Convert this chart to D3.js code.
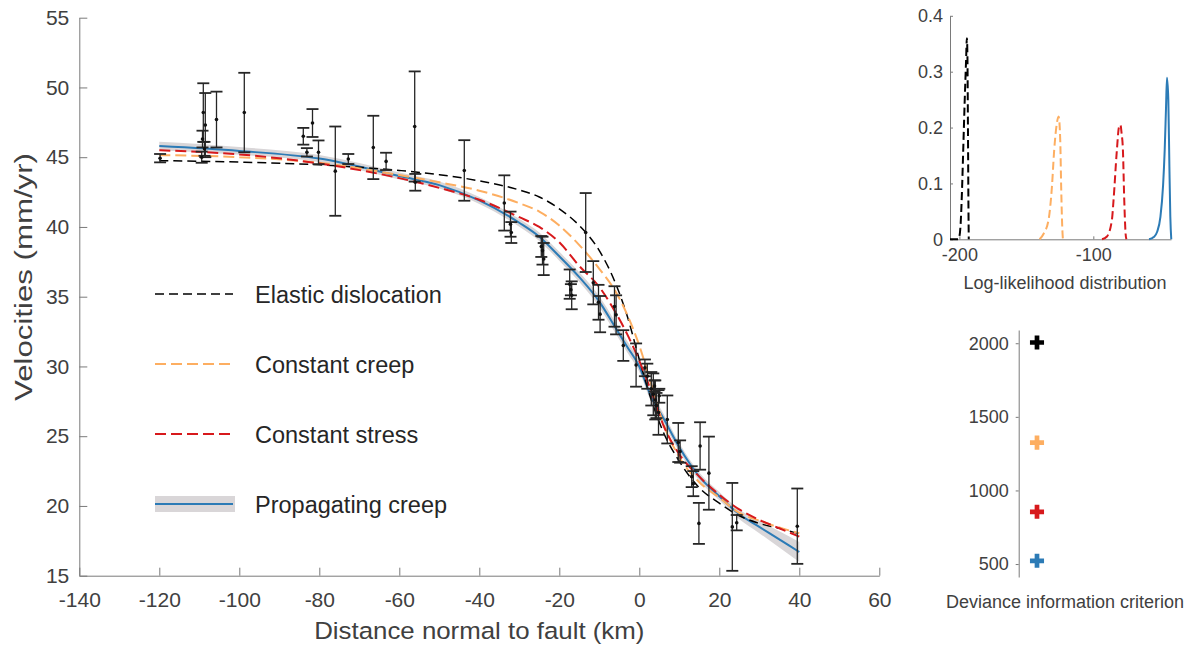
<!DOCTYPE html>
<html>
<head>
<meta charset="utf-8">
<script src="https://cdn.jsdelivr.net/npm/d3@7"></script>
<style>
  body { margin: 0; background: #fff; }
  svg text { font-family: "Liberation Sans", Arial, Helvetica, sans-serif; }
</style>
</head>
<body>
<svg id="fig" width="1195" height="646"></svg>
<script>
// ---------- data ----------
// GPS velocity observations across the fault
const distanceKm = [-119.8, -109.0, -108.5, -109.2, -108.7, -109.4, -105.7, -98.75, -84.0, -83.1, -81.7, -80.2,
  -76.0, -72.75, -66.5, -63.3, -56.15, -56.0, -43.75, -33.75, -32.2, -32.0, -24.5, -24.2, -23.9,
  -17.4, -17.1, -16.9, -13.4, -11.5, -10.2, -9.8, -6.2, -5.8, -4.0, -0.8, 1.4, 2.0, 3.0, 3.5, 3.8,
  4.0, 4.3, 4.8, 5.0, 7.0, 9.75, 10.2, 13.1, 13.5, 15.2, 14.9, 17.4, 23.25, 24.35, 39.5];
const velocityMm = [44.93, 48.2, 47.3, 46.3, 45.6, 45.0, 47.7, 48.2, 46.5, 45.35, 47.45, 45.35,
  44.0, 44.87, 45.7, 44.7, 47.2, 43.2, 44.05, 41.72, 40.2, 39.6, 38.6, 38.3, 37.7,
  35.9, 35.5, 35.1, 39.6, 36.0, 34.6, 33.75, 34.3, 33.7, 31.5, 30.1, 29.9, 29.3, 28.4, 28.0, 28.6,
  27.6, 27.2, 26.7, 27.9, 26.2, 24.55, 23.9, 22.1, 21.6, 24.3, 18.75, 22.35, 18.5, 18.8, 18.55];
const sigmaMm = [0.30, 2.1, 2.3, 0.6, 0.5, 0.4, 2.0, 2.85, 0.6, 0.3, 1.0, 0.85,
  3.2, 0.36, 2.27, 0.62, 3.95, 0.6, 2.17, 1.98, 0.9, 0.75, 0.75, 1.0, 1.15,
  1.05, 0.4, 1.0, 2.83, 1.55, 1.25, 1.3, 1.45, 1.4, 1.1, 1.55, 0.6, 0.9, 1.2, 1.5, 0.4,
  1.4, 0.9, 1.6, 0.5, 1.72, 1.4, 0.8, 0.75, 0.9, 1.7, 1.47, 2.62, 3.15, 0.55, 2.7];

// Model predictions, sampled along the profile
const profileKm      = [-120, -100, -80, -60, -50, -40, -30, -25, -20, -15, -10, -6, -3, 0, 3, 6, 10, 15, 20, 25, 30, 35, 40];
const elasticDisloc  = [44.75, 44.65, 44.45, 44.05, 43.75, 43.3, 42.65, 42.15, 41.3, 40.1, 38.3, 36.0, 33.6, 30.5, 27.6, 25.3, 23.2, 21.3, 20.2, 19.3, 18.75, 18.4, 18.0];
const constantCreep  = [45.15, 45.0, 44.6, 43.72, 43.2, 42.6, 41.7, 41.1, 40.1, 38.7, 37.0, 35.4, 33.7, 31.5, 28.7, 25.9, 23.5, 21.7, 20.6, 19.5, 18.95, 18.45, 18.05];
const constantStress = [45.5, 45.2, 44.55, 43.5, 42.8, 41.95, 40.7, 40.0, 38.9, 37.2, 35.7, 33.9, 32.3, 30.4, 28.2, 25.8, 23.7, 22.1, 20.8, 19.75, 19.0, 18.4, 17.8];
const propagCreep    = [45.8, 45.45, 44.9, 43.65, 43.0, 41.9, 40.3, 39.3, 37.9, 36.4, 34.65, 32.8, 31.4, 30.0, 27.8, 26.3, 24.2, 22.1, 20.7, 19.4, 18.5, 17.6, 16.7];
const propagSpread   = [0.3, 0.28, 0.25, 0.25, 0.25, 0.25, 0.28, 0.3, 0.32, 0.35, 0.38, 0.4, 0.4, 0.4, 0.38, 0.35, 0.32, 0.3, 0.3, 0.35, 0.45, 0.58, 0.72];

const modelNames = ["Elastic dislocation", "Constant creep", "Constant stress", "Propagating creep"];

// Log-likelihood distributions
const llElasticX = [-207, -201, -200, -199, -198, -197, -196, -195, -194.4, -194, -193.6, -193.2, -193];
const llElasticP = [0, 0, 0.005, 0.03, 0.09, 0.17, 0.25, 0.32, 0.36, 0.33, 0.2, 0.05, 0];
const llCreepX   = [-140.1, -137.1, -133.4, -130.9, -129.2, -127.2, -125.9, -124.7, -124.0, -123.2, -122.7];
const llCreepP   = [0, 0.01, 0.035, 0.094, 0.16, 0.208, 0.22, 0.178, 0.094, 0.022, 0];
const llStressX  = [-93.5, -89.8, -86.1, -84.9, -82.4, -80.9, -79.8, -78.9, -77.9, -76.9, -75.9, -75.3];
const llStressP  = [0, 0.005, 0.035, 0.07, 0.16, 0.2, 0.205, 0.19, 0.16, 0.07, 0.01, 0];
const llPropX    = [-58.4, -54.9, -52.4, -49.9, -47.9, -46.7, -45.7, -45.0, -44.0, -43.2, -42.5, -41.8];
const llPropP    = [0, 0.004, 0.013, 0.04, 0.097, 0.16, 0.237, 0.289, 0.25, 0.13, 0.04, 0];

// Deviance information criterion per model
const dicValues = [2005, 1325, 855, 522];

// Tick values
const xTicksMain = [-140, -120, -100, -80, -60, -40, -20, 0, 20, 40, 60];
const yTicksMain = [15, 20, 25, 30, 35, 40, 45, 50, 55];
const xTicksLL = [-200, -100];
const yTicksLL = [0, 0.1, 0.2, 0.3, 0.4];
const yTicksDIC = [500, 1000, 1500, 2000];

// ---------- styles ----------
const colors = ["#000000", "#fdae61", "#d7191c", "#2c7bb6"];
const dashes = ["9,5", "11,5", "11,5", null];
const widths = [1.5, 2, 2, 2];
const axisColor = "#7a7a7a";
const textColor = "#404040";
const plain = d => String(d);   // hyphen-minus, no grouping

const svg = d3.select("#fig");

// ---------- main panel ----------
const x = d3.scaleLinear().domain([-140, 60]).range([79.3, 879.3]);
const y = d3.scaleLinear().domain([15, 55]).range([575.7, 17.7]);

const main = svg.append("g");

function styleAxis(g, size) {
  g.select(".domain").attr("stroke", axisColor).attr("stroke-width", 1);
  g.selectAll(".tick line").attr("stroke", axisColor);
  g.selectAll(".tick text").attr("fill", textColor).attr("font-size", size);
}

main.append("g")
  .attr("transform", `translate(0,${y(15)})`)
  .call(d3.axisBottom(x).tickValues(xTicksMain).tickFormat(plain).tickSizeInner(-8).tickSizeOuter(0).tickPadding(16))
  .call(g => styleAxis(g, 21));

main.append("g")
  .attr("transform", `translate(${x(-140)},0)`)
  .call(d3.axisLeft(y).tickValues(yTicksMain).tickFormat(plain).tickSizeInner(-8).tickSizeOuter(0).tickPadding(10))
  .call(g => styleAxis(g, 21));

// axis titles are set slightly wide along their reading direction
main.append("text")
  .attr("transform", `translate(${(x(-140) + x(60)) / 2},639) scale(1.1,1)`)
  .attr("text-anchor", "middle").attr("font-size", 23.5)
  .attr("fill", textColor).text("Distance normal to fault (km)");

main.append("text")
  .attr("transform", `translate(32,277) rotate(-90) scale(1.3,1)`)
  .attr("text-anchor", "middle").attr("font-size", 24)
  .attr("fill", textColor).text("Velocities (mm/yr)");

// uncertainty band of the propagating-creep model
const band = d3.area()
  .x((d, i) => x(profileKm[i]))
  .y0((d, i) => y(propagCreep[i] - propagSpread[i]))
  .y1((d, i) => y(propagCreep[i] + propagSpread[i]))
  .curve(d3.curveMonotoneX);
main.append("path").datum(profileKm).attr("d", band)
  .attr("fill", "#d9d6d8").attr("stroke", "none");

const modelSeries = [elasticDisloc, constantCreep, constantStress, propagCreep];
const line = d3.line().x((d, i) => x(profileKm[i])).y(d => y(d)).curve(d3.curveMonotoneX);
[3, 0, 1, 2].forEach(k => {
  main.append("path").datum(modelSeries[k]).attr("d", line)
    .attr("fill", "none").attr("stroke", colors[k])
    .attr("stroke-width", widths[k])
    .attr("stroke-dasharray", dashes[k]);
});

// observations with error bars
const obs = distanceKm.map((d, i) => ({ d, v: velocityMm[i], s: sigmaMm[i] }));
const eb = main.append("g").attr("stroke", "#262626");
const capW = 6;
obs.forEach(o => {
  const cx = x(o.d), y0 = y(o.v - o.s), y1 = y(o.v + o.s);
  eb.append("line").attr("x1", cx).attr("x2", cx).attr("y1", y0).attr("y2", y1).attr("stroke-width", 1.3);
  eb.append("line").attr("x1", cx - capW).attr("x2", cx + capW).attr("y1", y0).attr("y2", y0).attr("stroke-width", 1.8);
  eb.append("line").attr("x1", cx - capW).attr("x2", cx + capW).attr("y1", y1).attr("y2", y1).attr("stroke-width", 1.8);
});
main.append("g").selectAll("circle").data(obs).join("circle")
  .attr("cx", o => x(o.d)).attr("cy", o => y(o.v)).attr("r", 1.8).attr("fill", "#111");

// legend
const legend = main.append("g");
const legY = [294, 364, 434, 504];
modelNames.forEach((name, k) => {
  if (k === 3) {
    legend.append("rect").attr("x", 155).attr("y", legY[k] - 8).attr("width", 80).attr("height", 16).attr("fill", "#d9d6d8");
  }
  legend.append("line").attr("x1", 155).attr("x2", 233).attr("y1", legY[k]).attr("y2", legY[k])
    .attr("stroke", colors[k]).attr("stroke-width", widths[k]).attr("stroke-dasharray", dashes[k]);
  legend.append("text").attr("x", 255).attr("y", legY[k] + 9).attr("font-size", 23.5)
    .attr("fill", "#262626").text(name);
});

// ---------- log-likelihood inset ----------
const xl = d3.scaleLinear().domain([-207, -42]).range([950, 1171]);
const yl = d3.scaleLinear().domain([0, 0.4]).range([239.3, 15.8]);
const ll = svg.append("g");
ll.append("g").attr("transform", `translate(0,${yl(0)})`)
  .call(d3.axisBottom(xl).tickValues(xTicksLL).tickFormat(plain).tickSizeInner(-3).tickSizeOuter(0).tickPadding(9))
  .call(g => styleAxis(g, 18));
ll.append("g").attr("transform", `translate(${xl(-207)},0)`)
  .call(d3.axisLeft(yl).tickValues(yTicksLL).tickFormat(d => d === 0 ? "0" : d.toFixed(1)).tickSizeInner(-3).tickSizeOuter(0).tickPadding(7))
  .call(g => styleAxis(g, 18));
ll.append("text").attr("x", 1065).attr("y", 289).attr("text-anchor", "middle")
  .attr("font-size", 18).attr("fill", textColor).text("Log-likelihood distribution");

const llSets = [[llElasticX, llElasticP], [llCreepX, llCreepP], [llStressX, llStressP], [llPropX, llPropP]];
llSets.forEach(([xs, ps], k) => {
  const ln = d3.line().x((d, i) => xl(xs[i])).y(d => yl(d)).curve(d3.curveMonotoneX);
  ll.append("path").datum(ps).attr("d", ln).attr("fill", "none")
    .attr("stroke", colors[k]).attr("stroke-width", 2)
    .attr("stroke-dasharray", k < 3 ? "8,4" : null);
});

// ---------- DIC inset ----------
const yd = d3.scaleLinear().domain([412, 2090]).range([577, 330]);
const xd = d3.scalePoint().domain(["DIC"]).range([1019, 1055]).padding(0.5);
const dic = svg.append("g");
dic.append("g").attr("transform", `translate(1018.7,0)`)
  .call(d3.axisLeft(yd).tickValues(yTicksDIC).tickFormat(plain).tickSizeInner(3).tickSizeOuter(0).tickPadding(7))
  .call(g => styleAxis(g, 18));
dic.append("text").attr("x", 1065).attr("y", 608).attr("text-anchor", "middle")
  .attr("font-size", 18).attr("fill", textColor).text("Deviance information criterion");
dic.selectAll("path.mark").data(dicValues).join("path").attr("class", "mark")
  .attr("transform", d => `translate(${xd("DIC")},${yd(d)})`)
  .attr("d", d3.symbol(d3.symbolCross, 110))
  .attr("fill", (d, i) => colors[i]);
</script>
</body>
</html>
